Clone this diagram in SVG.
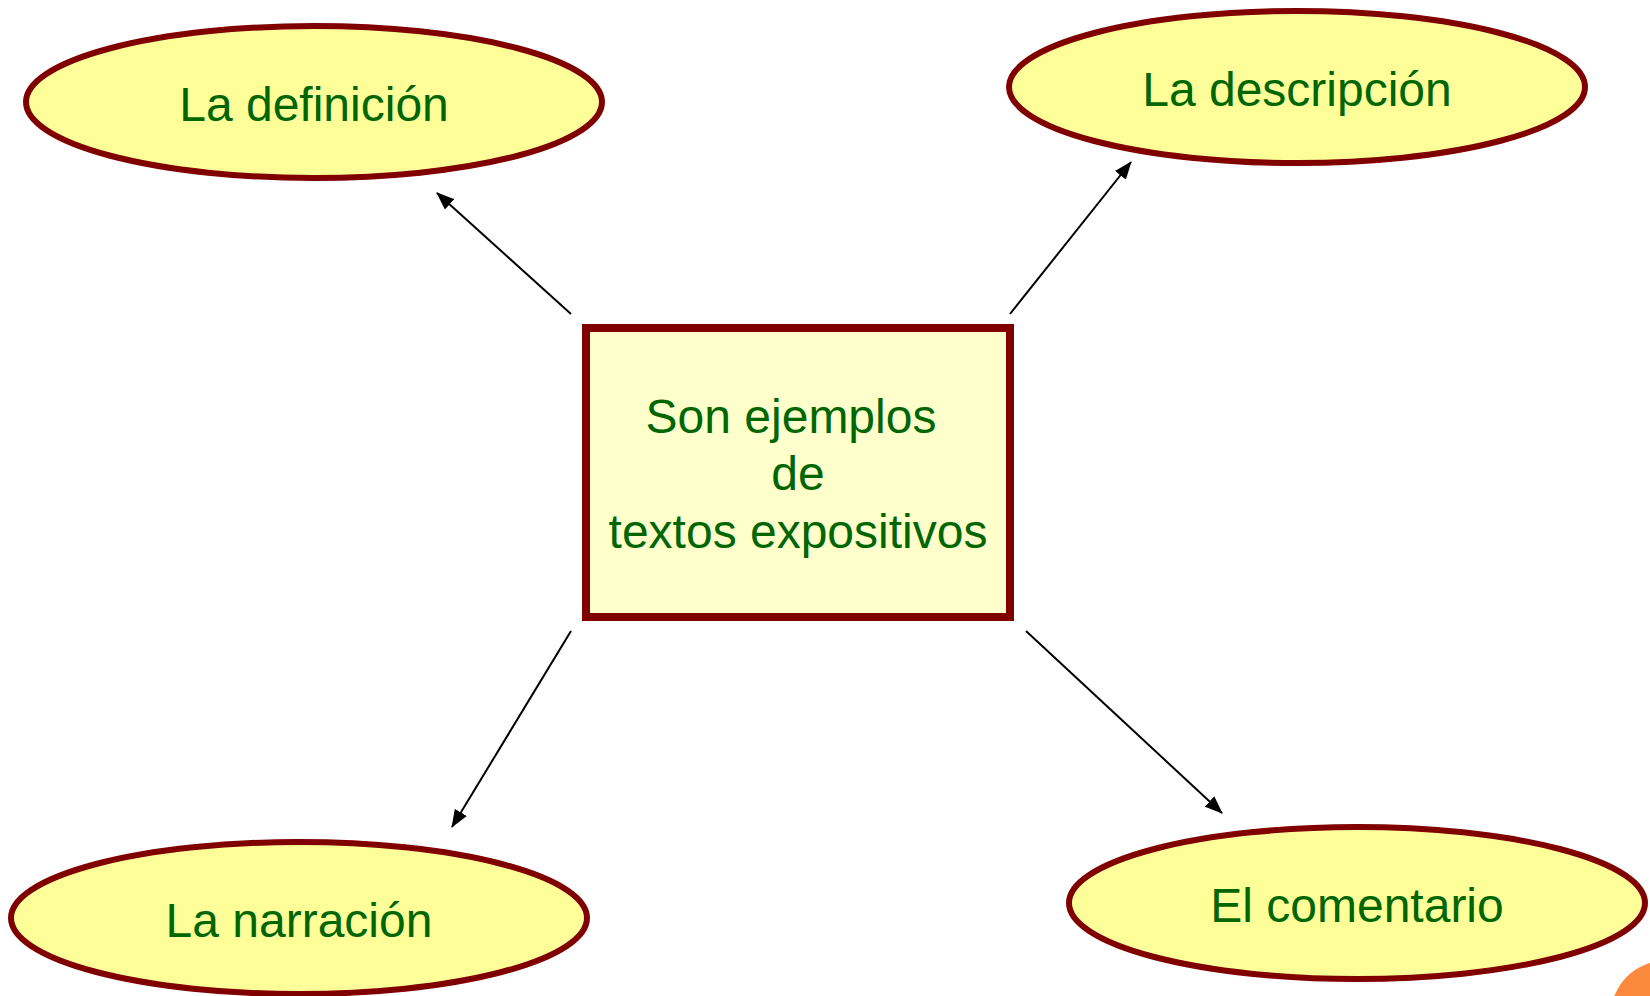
<svg xmlns="http://www.w3.org/2000/svg" width="1650" height="996" viewBox="0 0 1650 996">
<style>
.ell{fill:#FFFF99;stroke:#800000;stroke-width:6}
.box{fill:#FFFFCC;stroke:#800000;stroke-width:8}
.t{font-family:"Liberation Sans",Arial,sans-serif;font-size:48px;fill:#006600;text-anchor:middle}
.c{stroke:#000;stroke-width:2;fill:none;marker-end:url(#ah)}
</style>
<defs>
<marker id="ah" markerUnits="userSpaceOnUse" markerWidth="18" markerHeight="14" refX="17" refY="7" orient="auto">
<path d="M0,0 L18,7 L0,14 Z" fill="#000"/>
</marker>
</defs>
<rect width="1650" height="996" fill="#fff"/>
<circle cx="1665" cy="1015" r="54" fill="#FD8A3C"/>
<g id="connectors">
<line class="c" x1="571" y1="314" x2="437" y2="193"/>
<line class="c" x1="1010" y1="314" x2="1131" y2="162"/>
<line class="c" x1="571" y1="631" x2="452" y2="827"/>
<line class="c" x1="1026" y1="631" x2="1222" y2="813"/>
</g>
<g id="center">
<rect class="box" x="586" y="328" width="424" height="289"/>
<text class="t" x="791" y="433">Son ejemplos</text>
<text class="t" x="798" y="490">de</text>
<text class="t" x="798" y="548">textos expositivos</text>
</g>
<g id="definicion">
<ellipse class="ell" cx="314" cy="102" rx="288" ry="76"/>
<text class="t" x="314" y="121">La definición</text>
</g>
<g id="descripcion">
<ellipse class="ell" cx="1297" cy="87" rx="288" ry="76"/>
<text class="t" x="1297" y="106">La descripción</text>
</g>
<g id="narracion">
<ellipse class="ell" cx="299" cy="918" rx="288" ry="76"/>
<text class="t" x="299" y="937">La narración</text>
</g>
<g id="comentario">
<ellipse class="ell" cx="1357" cy="903" rx="288" ry="76"/>
<text class="t" x="1357" y="922">El comentario</text>
</g>
</svg>
